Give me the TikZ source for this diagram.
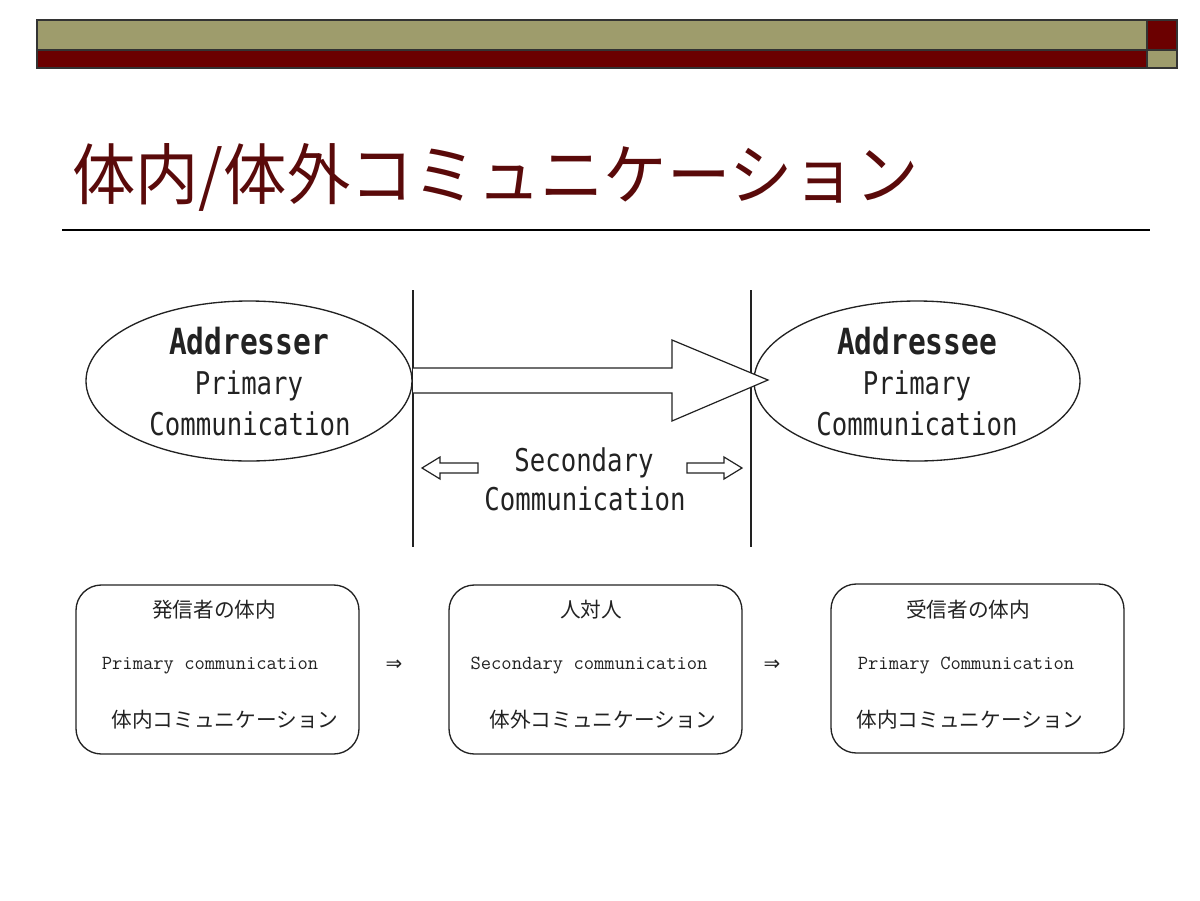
\documentclass[tikz,border=0pt]{standalone}
\usepackage{fontspec}
\usetikzlibrary{shapes.geometric}
\newfontfamily\cjk{Noto Sans CJK JP}
\newfontfamily\cjktitle[FakeStretch=0.95]{Noto Sans CJK JP}
\newfontfamily\gm[FakeStretch=0.82]{DejaVu Sans Mono}
\newfontfamily\sym{DejaVu Sans}
\definecolor{olivebar}{HTML}{9E9C6C}
\definecolor{darkred}{HTML}{6B0000}
\definecolor{titlered}{HTML}{5A0A0A}
\definecolor{ink}{HTML}{222222}
\tikzset{
  bar/.style={draw=black!80, line width=0.8pt},
  elli/.style={ellipse, draw=ink, line width=1pt, minimum width=244.5pt, minimum height=120pt, inner sep=0pt},
  bold/.style={font=\gm\bfseries\fontsize{27}{30}\selectfont, text=ink, inner sep=0pt},
  mono/.style={font=\gm\fontsize{23.5}{26}\selectfont, text=ink, inner sep=0pt},
  hollow/.style={draw=ink, line width=0.9pt, fill=white, line join=miter},
  vline/.style={draw=ink, line width=0.8pt},
  rbox/.style={draw=ink, line width=1pt, rounded corners=19pt, inner sep=0pt},
  jp/.style={font=\cjk\fontsize{15.5}{18}\selectfont, text=ink, inner sep=0pt},
  en/.style={font=\ttfamily\fontsize{15}{18}\selectfont, text=ink, inner sep=0pt},
  imp/.style={font=\sym\fontsize{15}{18}\selectfont, text=ink, inner sep=0pt}
}
\begin{document}
\begin{tikzpicture}[x=0.75pt,y=-0.75pt]
\useasboundingbox (0,0) rectangle (1200,900);
% header bars
\fill[olivebar] (37,20) rectangle (1147,50);
\fill[darkred] (37,50) rectangle (1147,68);
\fill[darkred] (1147,20) rectangle (1177,50);
\fill[olivebar] (1147,50) rectangle (1177,68);
\draw[bar] (37,20) rectangle (1177,68);
\draw[bar] (37,50) -- (1177,50);
\draw[bar] (1147,20) -- (1147,68);
% title
\node[anchor=west, text=titlered, font=\cjktitle\fontsize{50}{56}\selectfont, inner sep=0pt] (title) at (72,177) {体内/体外コミュニケーション};
\draw[black, line width=0.8pt] (62,230) -- (1150,230);
% vertical lines
\coordinate (v1t) at (413,290); \coordinate (v1b) at (413,547);
\coordinate (v2t) at (751,290); \coordinate (v2b) at (751,547);
\draw[vline] (v1t) -- (v1b);
\draw[vline] (v2t) -- (v2b);
% ellipses
\node[elli] (adr) at (249,381) {};
\node[elli] (ade) at (917,381) {};
\node[bold] (adrname) at (249,341) {Addresser};
\node[mono] (adrp) at (249,386) {Primary};
\node[mono] (adrc) at (250,424) {Communication};
\node[bold] (adename) at (917,341) {Addressee};
\node[mono] (adep) at (917,386) {Primary};
\node[mono] (adec) at (917,424) {Communication};
% big arrow
\draw[hollow] (413,368) -- (672,368) -- (672,340) -- (768,380) -- (672,421) -- (672,393) -- (413,393);
% secondary
\node[mono] (sec1) at (584,463) {Secondary};
\node[mono] (sec2) at (585,499) {Communication};
\draw[hollow] (422,468) -- (440,457) -- (440,463) -- (478,463) -- (478,473) -- (440,473) -- (440,479) -- cycle;
\draw[hollow] (742,468) -- (724,457) -- (724,463) -- (687,463) -- (687,473) -- (724,473) -- (724,479) -- cycle;
% boxes
\node[rbox, minimum width=212.25pt, minimum height=126.75pt] (b1) at (217.5,669.5) {};
\node[rbox, minimum width=219.75pt, minimum height=126.75pt] (b2) at (595.5,669.5) {};
\node[rbox, minimum width=219.75pt, minimum height=126.75pt] (b3) at (977.5,668.5) {};
\node[jp] (b1a) at (214,610) {発信者の体内};
\node[en] (b1b) at (210,666) {Primary communication};
\node[jp] (b1c) at (225,720) {体内コミュニケーション};
\node[jp] (b2a) at (591,610) {人対人};
\node[en] (b2b) at (589,666) {Secondary communication};
\node[jp] (b2c) at (603,720) {体外コミュニケーション};
\node[jp] (b3a) at (968,610) {受信者の体内};
\node[en] (b3b) at (966,666) {Primary Communication};
\node[jp] (b3c) at (970,720) {体内コミュニケーション};
\node[imp] (i1) at (394,665) {⇒};
\node[imp] (i2) at (772,665) {⇒};
\end{tikzpicture}
\end{document}
